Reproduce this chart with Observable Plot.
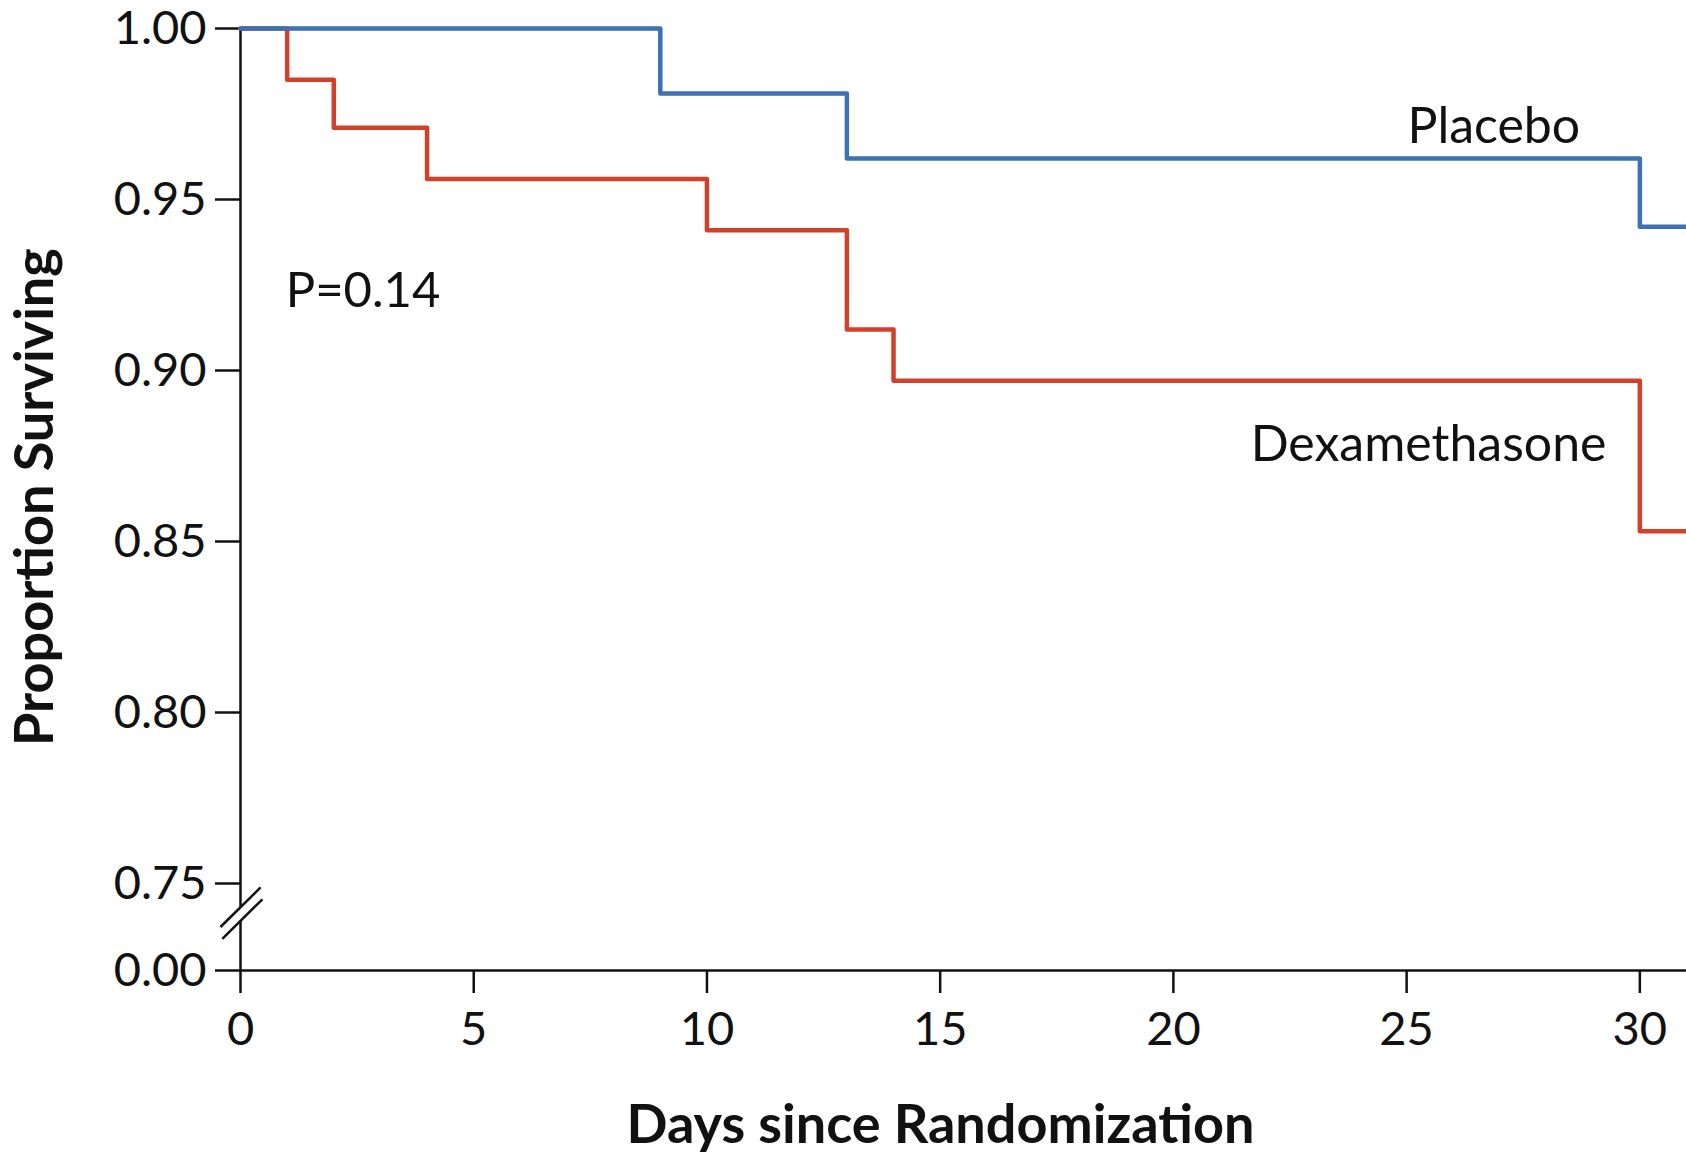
<!DOCTYPE html>
<html>
<head>
<meta charset="utf-8">
<script src="https://cdn.jsdelivr.net/npm/d3@7"></script>
<script src="https://cdn.jsdelivr.net/npm/@observablehq/plot@0.6"></script>
<style>
  html, body { margin: 0; padding: 0; background: #fff; }
  #chart svg { display: block; }
</style>
</head>
<body>
<div id="chart"></div>
<script>
// ---- data ----
const placeboDays = [0, 9, 13, 30, 31];
const placeboSurv = [1.0, 0.981, 0.962, 0.942, 0.942];
const dexaDays = [0, 1, 2, 4, 10, 13, 14, 30, 31];
const dexaSurv = [1.0, 0.985, 0.971, 0.956, 0.941, 0.912, 0.897, 0.853, 0.853];

const xTicks = [0, 5, 10, 15, 20, 25, 30];
const yTicks = [0, 0.75, 0.80, 0.85, 0.90, 0.95, 1.00];

const seriesLabels = [
  {name: "Placebo", x: 26.87, y: 0.9664},
  {name: "Dexamethasone", x: 25.47, y: 0.8734}
];
const pLabel = [{text: "P=0.14", x: 0.97, y: 0.9187}];
const yTitle = [{text: "Proportion Surviving", x: -4.39, y: 0.863}];

// axis-break (y axis is broken between 0.00 and 0.75)
const yAxisSegments = [{y1: 0, y2: 0.426}, {y1: 0.545, y2: 1}];
const breakMarks = [
  {x1: -0.43, y1: 0.375, x2: 0.43, y2: 0.716},
  {x1: -0.39, y1: 0.273, x2: 0.47, y2: 0.614}
];

const colors = {Placebo: "#3b72b3", Dexamethasone: "#d2402a"};

const placebo = placeboDays.map((d, i) => ({day: d, s: placeboSurv[i], group: "Placebo"}));
const dexa = dexaDays.map((d, i) => ({day: d, s: dexaSurv[i], group: "Dexamethasone"}));

const W = 1686, H = 1153;
const font = "Lato, 'Open Sans', sans-serif";

const chart = Plot.plot({
  width: W,
  height: H,
  marginLeft: 240,
  marginRight: 0,
  marginTop: 28,
  marginBottom: 183,
  style: {fontFamily: font, fontSize: "47px", color: "#111", background: "#fff"},
  x: {domain: [0, 31], range: [240, W], axis: null},
  y: {type: "linear", domain: [0, 0.75, 1], range: [970, 883, 28], axis: null},
  marks: [
    // x-axis line
    Plot.ruleY([0], {x1: 0, x2: 31, stroke: "#111", strokeWidth: 2.5}),
    // broken y-axis line
    Plot.ruleX(yAxisSegments, {x: 0, y1: "y1", y2: "y2", stroke: "#111", strokeWidth: 2.5}),
    Plot.link(breakMarks, {x1: "x1", y1: "y1", x2: "x2", y2: "y2", stroke: "#111", strokeWidth: 2.5}),
    Plot.axisX({ticks: xTicks, tickSize: 23, tickPadding: 18, tickFormat: d3.format("d"), strokeWidth: 2.5, stroke: "#111", fill: "#111"}),
    Plot.axisY({ticks: yTicks, tickSize: 25, tickPadding: 9, tickFormat: d3.format(".2f"), strokeWidth: 2.5, stroke: "#111", fill: "#111"}),
    // survival curves
    Plot.line(dexa, {x: "day", y: "s", curve: "step-after", stroke: colors.Dexamethasone, strokeWidth: 4.5}),
    Plot.line(placebo, {x: "day", y: "s", curve: "step-after", stroke: colors.Placebo, strokeWidth: 4.5}),
    // annotations
    Plot.text(seriesLabels, {x: "x", y: "y", text: "name", textAnchor: "middle", lineAnchor: "bottom", fontSize: 50, fill: "#111"}),
    Plot.text(pLabel, {x: "x", y: "y", text: "text", textAnchor: "start", lineAnchor: "bottom", fontSize: 49, fill: "#111"}),
    // axis titles
    Plot.text(["Days since Randomization"], {frameAnchor: "bottom", dx: -23, dy: 172, lineAnchor: "bottom", fontSize: 54, fontWeight: "bold", fill: "#111"}),
    Plot.text(yTitle, {x: "x", y: "y", text: "text", rotate: -90, textAnchor: "middle", lineAnchor: "middle", fontSize: 54, fontWeight: "bold", fill: "#111"})
  ]
});

document.getElementById("chart").appendChild(chart);
</script>
</body>
</html>
